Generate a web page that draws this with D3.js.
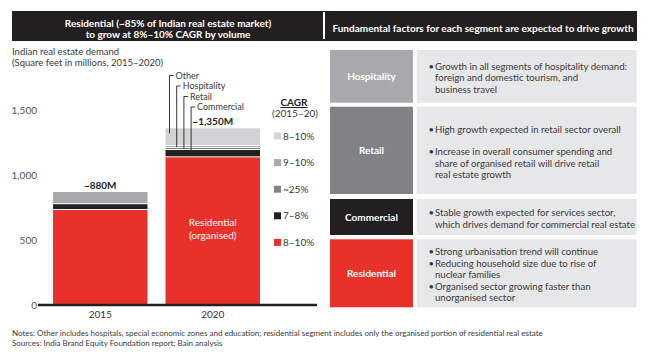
<!DOCTYPE html>
<html><head><meta charset="utf-8">
<script src="https://cdn.jsdelivr.net/npm/d3@7"></script>
<style>body{margin:0;background:#fff} svg{display:block} text{font-family:Lato,"Open Sans",sans-serif}</style>
</head><body><svg id="c" width="655" height="356"></svg>
<script>
// ---------- data ----------
const years = ["2015", "2020"];
const residential = [731, 1136];
const commercial = [44, 56];
const retail = [0, 16];
const hospitality = [0, 15];
const otherCombined = [94, 0];
const other = [0, 136];
const totalLabels = ["~880M", "~1,350M"];
const yTicks = [0, 500, 1000, 1500];
const legendLabels = ["8–10%", "9–10%", "~25%", "7–8%", "8–10%"];
const leaderLabels = ["Other", "Hospitality", "Retail", "Commercial"];
const factorSegments = ["Hospitality", "Retail", "Commercial", "Residential"];
const factorBullets = [
  [["Growth in all segments of hospitality demand:", "foreign and domestic tourism, and", "business travel"]],
  [["High growth expected in retail sector overall"], ["Increase in overall consumer spending and", "share of organised retail will drive retail", "real estate growth"]],
  [["Stable growth expected for services sector,", "which drives demand for commercial real estate"]],
  [["Strong urbanisation trend will continue"], ["Reducing household size due to rise of", "nuclear families"], ["Organised sector growing faster than", "unorganised sector"]]
];
const leftTitle = ["Residential (~85% of Indian real estate market)", "to grow at 8%–10% CAGR by volume"];
const rightTitle = "Fundamental factors for each segment are expected to drive growth";
const yTitle = ["Indian real estate demand", "(Square feet in millions, 2015–2020)"];
const notes = ["Notes: Other includes hospitals, special economic zones and education; residential segment includes only the organised portion of residential real estate",
               "Sources: India Brand Equity Foundation report; Bain analysis"];

// ---------- styles ----------
const RED = "#e8312a", BLACK = "#231f20", G1 = "#d1d3d4", G2 = "#a7a9ac", G3 = "#808285", TXT = "#3a3a3a";
const keys = ["residential", "commercial", "retail", "hospitality", "otherCombined", "other"];
const colors = {residential: RED, commercial: BLACK, retail: G3, hospitality: G2, otherCombined: G2, other: G1};
const series = {residential, commercial, retail, hospitality, otherCombined, other};
const table = years.map((yr, i) => { const o = {year: yr}; keys.forEach(k => o[k] = series[k][i]); return o; });

const svg = d3.select("#c");

// ---------- headers ----------
svg.append("rect").attr("x", 12).attr("y", 11).attr("width", 625).attr("height", 30).attr("fill", BLACK);
svg.append("rect").attr("x", 323).attr("y", 12).attr("width", 2).attr("height", 27).attr("fill", "#fff");
svg.append("text").attr("x", 168).attr("y", 26.5).attr("text-anchor", "middle").attr("fill", "#fff")
  .attr("font-size", 10).attr("font-weight", "bold").text(leftTitle[0]);
svg.append("text").attr("x", 168).attr("y", 37.5).attr("text-anchor", "middle").attr("fill", "#fff")
  .attr("font-size", 10).attr("font-weight", "bold").text(leftTitle[1]);
svg.append("text").attr("x", 483).attr("y", 32).attr("text-anchor", "middle").attr("fill", "#fff")
  .attr("font-size", 10).attr("font-weight", "bold").text(rightTitle);

// ---------- y title ----------
yTitle.forEach((t, i) => svg.append("text").attr("x", 12).attr("y", 55 + i * 11).attr("fill", TXT).attr("font-size", 9.5).text(t));

// ---------- scales ----------
const y = d3.scaleLinear().domain([0, 1500]).range([305, 110]);
const x = d3.scaleBand().domain(years).range([44, 269]).paddingInner(0.16).paddingOuter(0.08);

const yAxis = svg.append("g").attr("transform", "translate(38,0)")
  .call(d3.axisLeft(y).tickValues(yTicks).tickFormat(d3.format(",")).tickSize(0).tickPadding(1));
yAxis.select(".domain").remove();
yAxis.selectAll("text").attr("font-size", 10).attr("fill", "#555").attr("font-family", "Lato");

// ---------- stacked bars ----------
const stacked = d3.stack().keys(keys)(table);
const gap = 1;
stacked.forEach(s => {
  svg.append("g").selectAll("rect").data(s.filter(d => d[1] - d[0] > 0)).join("rect")
    .attr("x", d => x(d.data.year)).attr("width", x.bandwidth())
    .attr("y", d => y(d[1]))
    .attr("height", d => Math.max(0.8, y(d[0]) - y(d[1]) - (d[0] > 0 ? gap : 0)))
    .attr("fill", colors[s.key]);
});

// x axis
const xAxis = svg.append("g").attr("transform", "translate(0,305)")
  .call(d3.axisBottom(x).tickSize(0).tickPadding(6));
xAxis.select(".domain").remove();
xAxis.selectAll("text").attr("font-size", 10).attr("fill", "#333").attr("font-family", "Lato");
svg.append("line").attr("x1", 38).attr("x2", 317).attr("y1", 305).attr("y2", 305).attr("stroke", BLACK).attr("stroke-width", 2.5);

// totals
const tops = stacked[stacked.length - 1];
years.forEach((yr, i) => {
  svg.append("text").attr("x", x(yr) + x.bandwidth() / 2).attr("y", y(tops[i][1]) - (i === 0 ? 3 : 3))
    .attr("text-anchor", "middle").attr("font-size", 10).attr("font-weight", "bold").attr("fill", BLACK)
    .text(totalLabels[i]);
});
// residential inside label
const yr20 = years[1];
const rMid = y(residential[1] / 2);
svg.append("text").attr("x", x(yr20) + x.bandwidth() / 2).attr("y", rMid - 5).attr("text-anchor", "middle")
  .attr("fill", "#fff").attr("font-size", 10).text("Residential");
svg.append("text").attr("x", x(yr20) + x.bandwidth() / 2).attr("y", rMid + 7.5).attr("text-anchor", "middle")
  .attr("fill", "#fff").attr("font-size", 10).text("(organised)");

// leader lines for 2020
const leaderKeys = ["other", "hospitality", "retail", "commercial"];
leaderKeys.forEach((k, i) => {
  const s = stacked.find(ss => ss.key === k)[1];
  const lx = x(yr20) + 4 + i * 7.2;
  const ly = 75.5 + i * 10.5;
  const h = y(s[0]) - y(s[1]);
  const ey = y(s[1]) + Math.min(5, h / 2);
  svg.append("path").attr("d", `M${lx + 4},${ly}H${lx}V${ey}`).attr("fill", "none").attr("stroke", BLACK).attr("stroke-width", 0.9);
  svg.append("text").attr("x", lx + 6).attr("y", ly + 3).attr("font-size", 9).attr("fill", TXT).text(leaderLabels[i]);
});

// ---------- legend ----------
svg.append("text").attr("x", 294).attr("y", 106).attr("text-anchor", "middle").attr("font-size", 10)
  .attr("font-weight", "bold").attr("fill", BLACK).attr("text-decoration", "underline").text("CAGR");
svg.append("text").attr("x", 295).attr("y", 117).attr("text-anchor", "middle").attr("font-size", 10)
  .attr("fill", TXT).text("(2015–20)");
const legColors = [G1, G2, G3, BLACK, RED];
legendLabels.forEach((l, i) => {
  const ly = 136 + i * 26.6;
  svg.append("rect").attr("x", 274).attr("y", ly - 3.5).attr("width", 7).attr("height", 7).attr("fill", legColors[i]);
  svg.append("text").attr("x", 283).attr("y", ly + 3.5).attr("font-size", 10).attr("fill", TXT).text(l);
});

// ---------- right panel ----------
const rows = [[50, 102.7], [106.7, 194], [199, 235], [239.3, 307.3]];
const rowColors = [G2, G3, BLACK, RED];
const paraGap = [0, 11, 0, 0];
const lh = 11.5;
factorSegments.forEach((seg, i) => {
  const [y0, y1] = rows[i];
  svg.append("rect").attr("x", 330).attr("y", y0).attr("width", 83).attr("height", y1 - y0).attr("fill", rowColors[i]);
  svg.append("rect").attr("x", 416.7).attr("y", y0).attr("width", 220).attr("height", y1 - y0).attr("fill", "#e6e7e8");
  svg.append("text").attr("x", 371.5).attr("y", (y0 + y1) / 2 + 3.5).attr("text-anchor", "middle")
    .attr("fill", "#fff").attr("font-size", 10).attr("font-weight", "bold").text(seg);
  const paras = factorBullets[i];
  const nLines = d3.sum(paras, p => p.length);
  const total = (nLines - 1) * lh + (paras.length - 1) * paraGap[i];
  let cy = (y0 + y1) / 2 + 1.5 - total / 2;
  paras.forEach(p => {
    p.forEach((line, j) => {
      if (j === 0) svg.append("text").attr("x", 428.5).attr("y", cy + 3.5).attr("font-size", 9.6).attr("fill", TXT).text("•");
      svg.append("text").attr("x", 435).attr("y", cy + 3.5).attr("font-size", 9.6).attr("fill", TXT).text(line);
      cy += lh;
    });
    cy += paraGap[i];
  });
});

// ---------- notes ----------
notes.forEach((t, i) => svg.append("text").attr("x", 12).attr("y", 336 + i * 10).attr("font-size", 8).attr("fill", TXT).text(t));
</script></body></html>
